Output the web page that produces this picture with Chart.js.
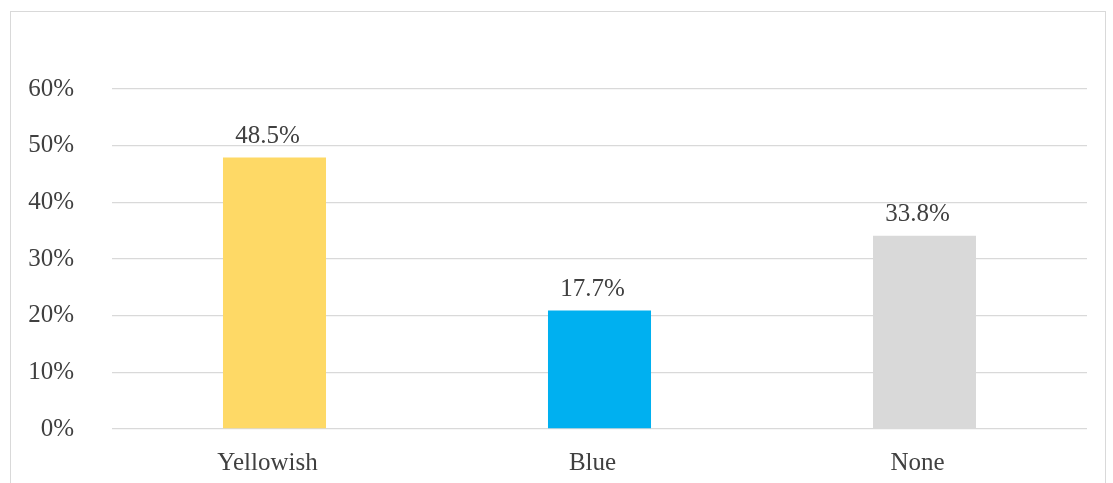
<!DOCTYPE html>
<html>
<head>
<meta charset="utf-8">
<script src="https://cdn.jsdelivr.net/npm/chart.js@4/dist/chart.umd.min.js"></script>
<style>
  html, body { margin: 0; padding: 0; background: #ffffff; }
  #wrap { position: relative; width: 1113px; height: 483px; overflow: hidden; }
  #frame { position: absolute; left: 10px; top: 11px; width: 1096px; height: 500px; border: 1px solid #d9d9d9; box-sizing: border-box; }
  canvas { position: absolute; left: 0; top: 0; }
</style>
</head>
<body>
<div id="wrap">
  <div id="frame"></div>
  <canvas id="c" width="1113" height="483"></canvas>
</div>
<script>
const categories = ['Yellowish', 'Blue', 'None'];
const barValues = [47.9, 20.9, 34.1];
const labelTexts = ['48.5%', '17.7%', '33.8%'];
const barColors = ['#FED966', '#00B0F0', '#D9D9D9'];
const yTicks = [0, 10, 20, 30, 40, 50, 60];

const FONT = '"Liberation Serif", "Times New Roman", serif';
const TEXT = '#404040';
const FS = 25;

const valueLabels = {
  id: 'valueLabels',
  afterDatasetsDraw(chart) {
    const ctx = chart.ctx;
    const meta = chart.getDatasetMeta(0);
    ctx.save();
    ctx.font = FS + 'px ' + FONT;
    ctx.fillStyle = TEXT;
    ctx.textAlign = 'center';
    ctx.textBaseline = 'alphabetic';
    meta.data.forEach((bar, i) => {
      ctx.fillText(labelTexts[i], bar.x - 7, bar.y - 15);
    });
    ctx.restore();
  }
};

new Chart(document.getElementById('c'), {
  type: 'bar',
  data: {
    labels: categories,
    datasets: [{
      data: barValues,
      backgroundColor: barColors,
      borderWidth: 0,
      barPercentage: 1,
      categoryPercentage: 0.317
    }]
  },
  options: {
    responsive: false,
    animation: false,
    devicePixelRatio: 1,
    layout: { padding: { left: 0, right: 26, top: 89, bottom: 0 } },
    plugins: { legend: { display: false }, tooltip: { enabled: false } },
    scales: {
      x: {
        grid: { display: false, drawTicks: false },
        border: { display: false },
        ticks: { color: TEXT, font: { family: FONT, size: FS }, padding: 19, labelOffset: -7, maxRotation: 0 },
        afterFit(s) { s.height = 483 - 429; }
      },
      y: {
        min: 0,
        max: 60,
        afterBuildTicks(s) { s.ticks = yTicks.map(v => ({ value: v })); },
        grid: { color: '#d9d9d9', lineWidth: 1.3, drawTicks: false },
        border: { display: false },
        ticks: {
          color: TEXT,
          font: { family: FONT, size: FS },
          padding: 38,
          callback: v => v + '%'
        },
        afterFit(s) { s.width = 112; }
      }
    }
  },
  plugins: [valueLabels]
});
</script>
</body>
</html>
